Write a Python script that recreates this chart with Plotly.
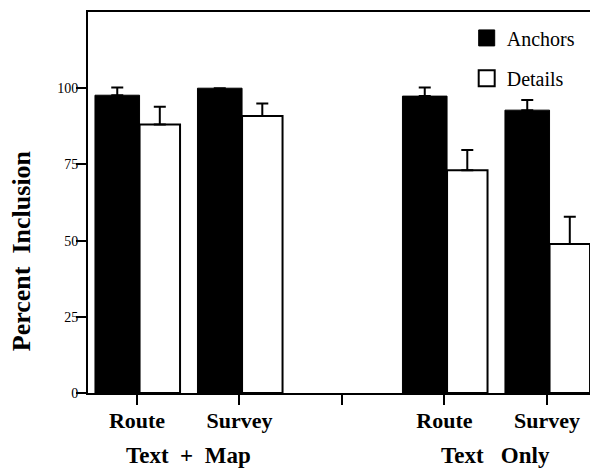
import plotly.graph_objects as go

groups = ["Text + Map", "Text Only"]
conditions = ["Route", "Survey", "Route", "Survey"]
positions = [1, 2, 4, 5]
tick_vals = [1, 2, 3, 4, 5]
tick_text = ["Route", "Survey", "", "Route", "Survey"]
y_ticks = [0, 25, 50, 75, 100]

anchors = [97.7, 100.0, 97.4, 92.8]
anchors_err = [2.5, 0.0, 2.8, 3.3]
details = [88.1, 90.9, 73.1, 48.9]
details_err = [5.8, 4.1, 6.6, 8.9]

SERIF = "Liberation Serif, Times New Roman, serif"

fig = go.Figure()
fig.add_trace(go.Bar(
    x=positions, y=anchors, name="Anchors", showlegend=False,
    offset=-0.41, width=0.435,
    marker=dict(color="black", line=dict(color="black", width=1)),
    error_y=dict(type="data", array=anchors_err, arrayminus=[0] * 4,
                 symmetric=False, color="black", thickness=2, width=6),
))
fig.add_trace(go.Bar(
    x=positions, y=details, name="Details", showlegend=False,
    offset=0.025, width=0.395,
    marker=dict(color="white", line=dict(color="black", width=2)),
    error_y=dict(type="data", array=details_err, arrayminus=[0] * 4,
                 symmetric=False, color="black", thickness=2, width=6),
))
# legend entries
fig.add_trace(go.Scatter(
    x=[None], y=[None], mode="markers", name="Anchors", legend="legend",
    marker=dict(symbol="square", size=16, color="black",
                line=dict(color="black", width=1)),
))
fig.add_trace(go.Scatter(
    x=[None], y=[None], mode="markers", name="Details", legend="legend2",
    marker=dict(symbol="square", size=16, color="white",
                line=dict(color="black", width=2)),
))

# page body has an 8px default margin: figure is 590x466 so it fits the window
fig.update_layout(
    width=590, height=466,
    margin=dict(l=80, r=1, t=4, b=81, autoexpand=False),
    paper_bgcolor="white", plot_bgcolor="white",
    barmode="overlay",
    font=dict(family=SERIF, color="black"),
    legend=dict(x=0.744, y=0.932, xanchor="left", yanchor="middle",
                bgcolor="rgba(0,0,0,0)", borderwidth=0,
                font=dict(family=SERIF, size=20, color="black")),
    legend2=dict(x=0.744, y=0.826, xanchor="left", yanchor="middle",
                 bgcolor="rgba(0,0,0,0)", borderwidth=0,
                 font=dict(family=SERIF, size=20, color="black")),
    xaxis=dict(
        range=[0.522, 5.488], tickmode="array", tickvals=tick_vals,
        ticktext=tick_text, ticks="outside", ticklen=10, tickwidth=2,
        tickcolor="black", showline=True, linewidth=2, linecolor="black",
        mirror=True, showgrid=False, zeroline=False, automargin=False,
        ticklabelstandoff=-3,
        tickfont=dict(family=SERIF, size=22, color="black", weight="bold"),
    ),
    yaxis=dict(
        range=[0, 125], tickmode="array", tickvals=y_ticks,
        ticks="outside", ticklen=10, tickwidth=2, tickcolor="black",
        showline=True, linewidth=2, linecolor="black", mirror=True,
        showgrid=False, zeroline=False, automargin=False,
        ticklabelstandoff=-5,
        tickfont=dict(family=SERIF, size=14, color="black"),
    ),
)

group_x = [1.5, 4.5]
group_text = ["Text\u00a0\u00a0+\u00a0\u00a0Map", "Text\u00a0\u00a0\u00a0Only"]
for gx, gt in zip(group_x, group_text):
    fig.add_annotation(x=gx, xref="x", y=-0.163, yref="paper", text=gt,
                       showarrow=False, xanchor="center", yanchor="middle",
                       font=dict(family=SERIF, size=23, color="black",
                                 weight="bold"))

fig.add_annotation(x=-0.129, xref="paper", y=0.373, yref="paper",
                   text="Percent\u00a0\u00a0Inclusion", textangle=-90,
                   showarrow=False, xanchor="center", yanchor="middle",
                   font=dict(family=SERIF, size=26, color="black",
                             weight="bold"))

fig.write_html("out.html")
